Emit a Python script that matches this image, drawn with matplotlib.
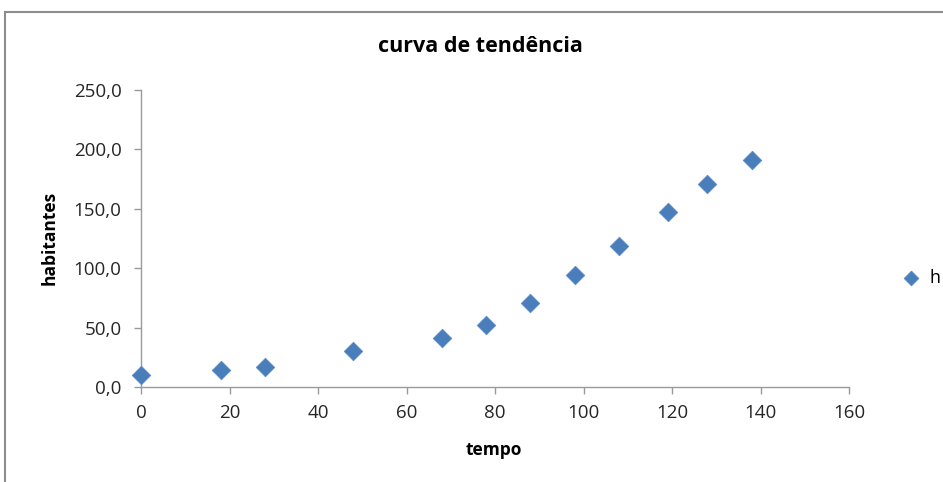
import matplotlib
matplotlib.use("Agg")
import matplotlib.pyplot as plt
from matplotlib.patches import Rectangle
from matplotlib.ticker import FuncFormatter

# Population over time
tempo = [0, 18, 28, 48, 68, 78, 88, 98, 108, 119, 128, 138]
habitantes = [10.1, 14.5, 17.0, 30.5, 41.5, 52.5, 70.5, 94.0, 119.0, 147.0, 170.5, 191.0]

x_ticks = [0, 20, 40, 60, 80, 100, 120, 140, 160]
y_ticks = [0, 50, 100, 150, 200, 250]

plt.rcParams['font.family'] = ['Open Sans', 'DejaVu Sans']

W, H = 943, 482
fig = plt.figure(figsize=(W / 100, H / 100), dpi=100)

# chart-area frame
fig.patches.append(Rectangle((5 / W, -0.1), 1.2, 1 - 12 / H + 0.1,
                             transform=fig.transFigure, fill=False,
                             edgecolor='#8c8c8c', linewidth=1.5))

ax = fig.add_axes([141 / W, 1 - 387 / H, (849 - 141) / W, (387 - 90) / H])
ax.scatter(tempo, habitantes, marker='D', s=90, color='#4A7EBB',
           edgecolors='#5b8bc6', linewidths=0.5, zorder=3, label='h',
           clip_on=False)

ax.set_xlim(0, 160)
ax.set_ylim(0, 250)
ax.set_xticks(x_ticks)
ax.set_yticks(y_ticks)
ax.yaxis.set_major_formatter(FuncFormatter(lambda v, p: f"{v:.1f}".replace('.', ',')))

for s in ['top', 'right']:
    ax.spines[s].set_visible(False)
for s in ['left', 'bottom']:
    ax.spines[s].set_color('#9a9a9a')
    ax.spines[s].set_linewidth(1.0)
ax.tick_params(direction='out', length=5, width=1, color='#9a9a9a',
               labelsize=13.5, labelcolor='#262626')
ax.tick_params(axis='x', pad=7)
ax.tick_params(axis='y', pad=9)

ax.set_xlabel('tempo', fontsize=12.5, fontweight='bold')
ax.xaxis.set_label_coords((494 - 141) / (849 - 141), -(450 - 387) / (387 - 90))
ax.set_ylabel('habitantes', fontsize=12.5, fontweight='bold')
ax.yaxis.set_label_coords(-(141 - 50) / (849 - 141), (387 - 238) / (387 - 90))
ax.xaxis.label.set_va('center')
ax.yaxis.label.set_va('center')

fig.text(480 / W, 1 - 47 / H, 'curva de tendência', fontsize=15.5,
         fontweight='bold', ha='center', va='center')

ax.legend(loc='center left', bbox_to_anchor=(884 / W, 1 - 278 / H),
          bbox_transform=fig.transFigure, frameon=False, fontsize=13,
          handletextpad=0.0, borderpad=0, markerscale=0.8)

fig.savefig('out.png', dpi=100)
